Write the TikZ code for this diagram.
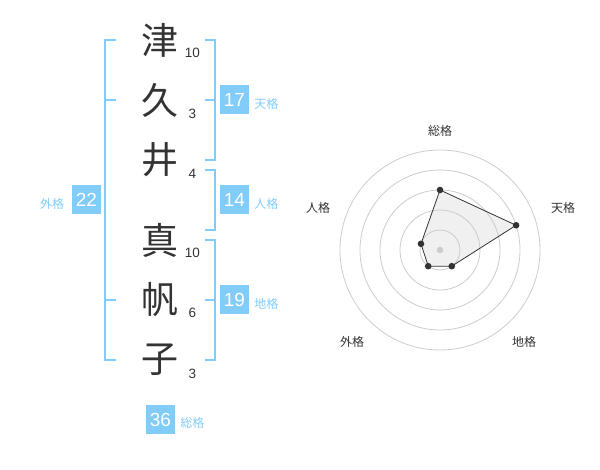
\documentclass[tikz,border=0pt]{standalone}
\usepackage{fontspec}
\setmainfont{Liberation Sans}
\newfontfamily\jpfont{Noto Sans CJK JP}
\usetikzlibrary{positioning}
\newlength{\du}
\setlength{\du}{1pt}

\begin{document}
\begin{tikzpicture}[x=1\du,y=-1\du]
\definecolor{kakucolor}{rgb}{0.510000, 0.800000, 0.980000}
\definecolor{inkcolor}{rgb}{0.200000, 0.200000, 0.200000}
\definecolor{ringcolor}{rgb}{0.800000, 0.800000, 0.800000}
\definecolor{areacolor}{rgb}{0.941000, 0.941000, 0.941000}
\tikzset{
  kanji/.style={inner sep=0pt, text=inkcolor, font=\jpfont\fontsize{37}{37}\selectfont},
  strokes/.style={inner sep=0pt, text=inkcolor, font=\fontsize{13.5}{13.5}\selectfont},
  kakubox/.style={fill=kakucolor, text=white, inner sep=0pt, minimum size=29\du, font=\fontsize{19}{19}\selectfont},
  kakulabel/.style={inner sep=0pt, text=kakucolor, font=\jpfont\fontsize{12}{12}\selectfont},
  bracket/.style={draw=kakucolor, line width=2\du},
  ring/.style={draw=ringcolor, line width=0.8\du},
  axislabel/.style={inner sep=0pt, text=inkcolor, font=\jpfont\fontsize{12}{12}\selectfont},
  area/.style={fill=areacolor},
  outline/.style={draw=inkcolor, line width=0.8\du},
}
\useasboundingbox (0,0) rectangle (600,470);
% name
\node[kanji] (tsu) at (160,40) {津};
\node[kanji] (ku) at (160,100) {久};
\node[kanji] (i) at (160,160) {井};
\node[kanji] (ma) at (160,240) {真};
\node[kanji] (ho) at (160,300) {帆};
\node[kanji] (ko) at (160,360) {子};
% strokes
\node[strokes] (tsun) at (192.5,52.5) {10};
\node[strokes] (kun) at (192.5,113.5) {3};
\node[strokes] (in) at (192.5,173.5) {4};
\node[strokes] (man) at (192.5,252.5) {10};
\node[strokes] (hon) at (192.5,312.5) {6};
\node[strokes] (kon) at (192.5,373.5) {3};
% brackets
\draw[bracket] (116,0 |- tsu) -- (105,0 |- tsu) -- (105,0 |- ko) -- (116,0 |- ko);
\draw[bracket] (105,0 |- ku) -- (116,0 |- ku);
\draw[bracket] (105,0 |- ho) -- (116,0 |- ho);
\draw[bracket] (205,0 |- tsu) -- (215,0 |- tsu) -- (215,0 |- i) -- (205,0 |- i);
\draw[bracket] (205,0 |- ku) -- (215,0 |- ku);
\draw[bracket] (205,170) -- (215,170) -- (215,230) -- (205,230);
\draw[bracket] (205,0 |- ma) -- (215,0 |- ma) -- (215,0 |- ko) -- (205,0 |- ko);
\draw[bracket] (205,0 |- ho) -- (215,0 |- ho);
% scores
\node[kakubox] (tenkaku) at (234.5,100) {17};
\node[kakulabel, right=5\du of tenkaku, yshift=-3.5\du] (tenkakul) {天格};
\node[kakubox] (jinkaku) at (234.5,200) {14};
\node[kakulabel, right=5\du of jinkaku, yshift=-3.5\du] (jinkakul) {人格};
\node[kakubox] (chikaku) at (234.5,300) {19};
\node[kakulabel, right=5\du of chikaku, yshift=-3.5\du] (chikakul) {地格};
\node[kakubox] (gaikaku) at (86.5,200) {22};
\node[kakulabel, left=7.5\du of gaikaku, yshift=-3.5\du] (gaikakul) {外格};
\node[kakubox] (soukaku) at (160.5,419.5) {36};
\node[kakulabel, right=5\du of soukaku, yshift=-3\du] (soukakul) {総格};
% radar
\coordinate (rc) at (440,250);
\coordinate (rsou) at ([shift={(-90:60)}]rc);
\coordinate (rten) at ([shift={(-18:80)}]rc);
\coordinate (rchi) at ([shift={(54:20)}]rc);
\coordinate (rgai) at ([shift={(126:20)}]rc);
\coordinate (rjin) at ([shift={(-162:20)}]rc);
\fill[area] (rsou) -- (rten) -- (rchi) -- (rgai) -- (rjin) -- cycle;
\foreach \r in {20,40,...,100}
  \draw[ring] (rc) circle[radius=\r\du];
\draw[outline] (rsou) -- (rten) -- (rchi) -- (rgai) -- (rjin) -- cycle;
\fill[ringcolor] (rc) circle[radius=3.3\du];
\foreach \p in {rsou,rten,rchi,rgai,rjin}
  \fill[inkcolor] (\p) circle[radius=3.3\du];
\node[axislabel] (lsou) at (440,130.5) {総格};
\node[axislabel] (lten) at (563,208) {天格};
\node[axislabel] (lchi) at (524,342) {地格};
\node[axislabel] (lgai) at (352,342) {外格};
\node[axislabel] (ljin) at (318,208) {人格};
\end{tikzpicture}
\end{document}
